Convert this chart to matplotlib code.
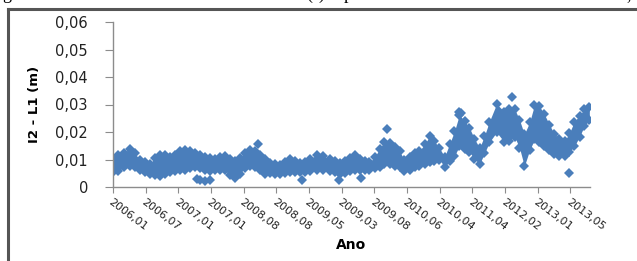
import matplotlib.pyplot as plt
from matplotlib.lines import Line2D

pos = [0, 15, 34, 52, 67, 83, 98, 113, 128, 144, 159, 174, 189, 205, 220, 235,
       251, 266, 281, 296, 312, 327, 342, 358, 373, 388, 403, 419, 434, 449, 465,
       480, 495, 510, 526, 541, 556, 572, 587, 602, 623, 642, 663, 679, 694, 709,
       724, 740, 755, 770, 785, 801, 816, 831, 847, 862, 877, 892, 908, 923, 938,
       954, 969, 984, 999, 1015, 1030, 1045, 1060, 1076, 1091, 1106, 1122, 1137,
       1152, 1174, 1198, 1213, 1229, 1244, 1259, 1275, 1290, 1305, 1320, 1336,
       1351, 1366, 1382, 1397, 1412, 1428, 1443, 1458]
upper = [0.0105, 0.0115, 0.0125, 0.0140, 0.0122, 0.0098, 0.0090, 0.0085, 0.0105,
         0.0118, 0.0115, 0.0108, 0.0115, 0.0130, 0.0135, 0.0130, 0.0123, 0.0116,
         0.0110, 0.0107, 0.0103, 0.0110, 0.0113, 0.0102, 0.0096, 0.0107, 0.0125,
         0.0135, 0.0130, 0.0116, 0.0102, 0.0088, 0.0083, 0.0080, 0.0092, 0.0102,
         0.0096, 0.0086, 0.0090, 0.0102, 0.0116, 0.0112, 0.0102, 0.0093, 0.0086,
         0.0093, 0.0106, 0.0116, 0.0102, 0.0093, 0.0090, 0.0108, 0.0140, 0.0165,
         0.0160, 0.0146, 0.0130, 0.0098, 0.0108, 0.0122, 0.0132, 0.0155, 0.0185,
         0.0166, 0.0142, 0.0110, 0.0156, 0.0202, 0.0262, 0.0240, 0.0215, 0.0176,
         0.0142, 0.0186, 0.0238, 0.0302, 0.0274, 0.0284, 0.0284, 0.0245, 0.0192,
         0.0235, 0.0298, 0.0294, 0.0265, 0.0226, 0.0192, 0.0176, 0.0167, 0.0196,
         0.0238, 0.0260, 0.0284, 0.0290]
lower = [0.0055, 0.0058, 0.0072, 0.0075, 0.0072, 0.0062, 0.0053, 0.0047, 0.0043,
         0.0040, 0.0048, 0.0053, 0.0058, 0.0061, 0.0063, 0.0068, 0.0072, 0.0068,
         0.0063, 0.0058, 0.0061, 0.0063, 0.0061, 0.0044, 0.0034, 0.0048, 0.0068,
         0.0076, 0.0073, 0.0063, 0.0048, 0.0051, 0.0049, 0.0048, 0.0051, 0.0053,
         0.0055, 0.0053, 0.0055, 0.0059, 0.0063, 0.0061, 0.0058, 0.0053, 0.0048,
         0.0051, 0.0058, 0.0063, 0.0063, 0.0063, 0.0063, 0.0068, 0.0073, 0.0083,
         0.0083, 0.0078, 0.0073, 0.0058, 0.0063, 0.0071, 0.0076, 0.0083, 0.0090,
         0.0093, 0.0100, 0.0073, 0.0093, 0.0113, 0.0148, 0.0138, 0.0127, 0.0103,
         0.0083, 0.0123, 0.0163, 0.0199, 0.0163, 0.0168, 0.0183, 0.0143, 0.0076,
         0.0133, 0.0173, 0.0163, 0.0148, 0.0133, 0.0119, 0.0113, 0.0113, 0.0128,
         0.0148, 0.0183, 0.0223, 0.0243]

# isolated points
out_pos = [257, 266, 281, 296, 443, 578, 691, 758, 840, 1058, 1066, 1220, 1397]
out_val = [0.0030, 0.0025, 0.0022, 0.0025, 0.0157, 0.0025, 0.0025, 0.0033,
           0.0212, 0.0272, 0.0270, 0.0327, 0.0050]

tick_pos = [0, 100, 200, 300, 400, 500, 600, 700, 800, 900, 1000, 1100, 1200, 1300, 1400]
tick_lab = ['2006,01', '2006,07', '2007,01', '2007,01', '2008,08', '2008,08',
            '2009,05', '2009,03', '2009,08', '2010,06', '2010,04', '2011,04',
            '2012,02', '2013,01', '2013,05']
y_ticks = [0, 0.01, 0.02, 0.03, 0.04, 0.05, 0.06]
y_lab = ['0', '0,01', '0,02', '0,03', '0,04', '0,05', '0,06']

blue = '#4a7ebb'
grey = '#8c8c8c'

fig = plt.figure(figsize=(6.37, 2.61), dpi=100)
ax = fig.add_axes([113 / 637, 74 / 261, 477 / 637, 165 / 261])

ax.fill_between(pos, lower, upper, color=blue, lw=0)
ax.plot(pos, upper, 'D', color=blue, ms=5, mew=0)
ax.plot(pos, lower, 'D', color=blue, ms=5, mew=0)
ax.plot(out_pos, out_val, 'D', color=blue, ms=5.5, mew=0)

ax.set_xlim(0, 1460)
ax.set_ylim(0, 0.06)
ax.set_yticks(y_ticks)
ax.set_yticklabels(y_lab, fontsize=10.5, color='#222222')
ax.set_xticks(tick_pos)
ax.set_xticklabels(tick_lab, fontsize=8, rotation=-37, ha='left', va='top',
                   rotation_mode='anchor', color='#222222')

for s in ['top', 'right']:
    ax.spines[s].set_visible(False)
for s in ['left', 'bottom']:
    ax.spines[s].set_color(grey)
    ax.spines[s].set_linewidth(1)
ax.tick_params(axis='y', length=6, color=grey, pad=12)
ax.tick_params(axis='x', length=4, color=grey, pad=3)

ax.set_ylabel('I2 - L1 (m)', fontsize=9.5, fontweight='bold', labelpad=10)
fig.text(351 / 637, 1 - 245 / 261, 'Ano', fontsize=10, fontweight='bold',
         ha='center', va='center')

# frame of the document box
fig.add_artist(Line2D([8 / 637, 1], [1 - 9 / 261, 1 - 9 / 261], color='#555555',
                      lw=2.2, transform=fig.transFigure))
fig.add_artist(Line2D([8 / 637, 8 / 637], [0, 1 - 9 / 261], color='#555555',
                      lw=2.2, transform=fig.transFigure))

# bits of the line of text above the box
for xp, s in [(2, 'g'), (306, '('), (318, ')'), (344, 'p'), (626, ',')]:
    fig.text(xp / 637, 1 + 1 / 261, s, family='Liberation Serif', fontsize=13,
             va='baseline', ha='left')

fig.savefig('out.png', dpi=100)
